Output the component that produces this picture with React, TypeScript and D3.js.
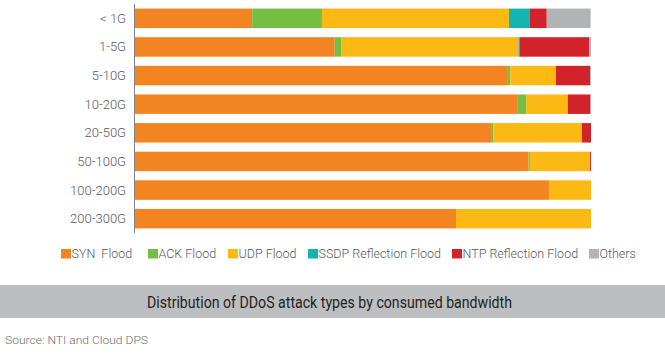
import React from "react";
import { scaleBand, scaleLinear, stack } from "d3";

const categories = ["< 1G", "1-5G", "5-10G", "10-20G", "20-50G", "50-100G", "100-200G", "200-300G"];
const seriesNames = ["SYN  Flood", "ACK Flood", "UDP Flood", "SSDP Reflection Flood", "NTP Reflection Flood", "Others"];
const synFlood = [25.7, 43.8, 81.6, 83.8, 78.1, 86.3, 90.9, 70.4];
const ackFlood = [15.3, 1.5, 0.7, 2.0, 0.5, 0.3, 0, 0];
const udpFlood = [41.0, 38.8, 10.0, 9.1, 19.4, 13.2, 9.1, 29.6];
const ssdpFlood = [4.5, 0.3, 0, 0, 0, 0, 0, 0];
const ntpFlood = [3.8, 15.2, 7.5, 5.0, 2.0, 0.2, 0, 0];
const others = [9.6, 0.4, 0.2, 0.1, 0, 0, 0, 0];
const title = "Distribution of DDoS attack types by consumed bandwidth";
const source = "Source: NTI and Cloud DPS";

const colors = ["#f28422", "#72bf44", "#fdb913", "#13b5b1", "#d2232a", "#b2b3b5"];
// legend items sit at these x positions in the original
const legendX = [61, 148, 228, 308, 452, 589];

export default function App() {
  const width = 665;
  const height = 358;
  const keys = ["syn", "ack", "udp", "ssdp", "ntp", "others"];
  const cols = [synFlood, ackFlood, udpFlood, ssdpFlood, ntpFlood, others];

  // 建表给 d3.stack 用
  const table = categories.map((c, i) => {
    const row: any = { cat: c };
    keys.forEach((k, j) => (row[k] = cols[j][i]));
    return row;
  });
  const series = stack().keys(keys)(table);

  const x = scaleLinear().domain([0, 100]).range([135, 591]);
  const y = scaleBand().domain(categories).range([4, 233]).paddingInner(0.32).paddingOuter(0.16);

  const font = "Roboto, 'Noto Sans', sans-serif";

  return (
    <svg
      width={width}
      height={height}
      style={{ position: "absolute", left: 0, top: 0, display: "block", background: "#fff" }}
      fontFamily={font}
    >
      {series.map((s, si) => (
        <g key={s.key} fill={colors[si]}>
          {s.map((d, i) =>
            d[1] - d[0] > 0 ? (
              <rect
                key={i}
                x={x(d[0])}
                y={y(categories[i])}
                width={x(d[1]) - x(d[0])}
                height={y.bandwidth()}
              />
            ) : null
          )}
        </g>
      ))}

      <line x1={134.5} x2={134.5} y1={4} y2={233} stroke="#808285" strokeWidth={1} />

      {categories.map((c) => (
        <text
          key={c}
          x={126}
          y={(y(c) as number) + y.bandwidth() / 2}
          dy="0.35em"
          textAnchor="end"
          fontSize={13}
          fontWeight={300}
          fill="#58595b"
        >
          {c}
        </text>
      ))}

      {seriesNames.map((n, i) => (
        <g key={n} transform={`translate(${legendX[i]}, 249)`}>
          <rect width={10} height={9.5} fill={colors[i]} />
          <text x={10.5} y={9} fontSize={12.5} fontWeight={300} fill="#58595b" style={{ whiteSpace: "pre" }}>
            {n}
          </text>
        </g>
      ))}

      <rect x={0} y={285} width={width} height={33} fill="#bcbec0" />
      <text
        x={329.5}
        y={307.5}
        textAnchor="middle"
        fontSize={16}
        fill="#231f20"
        textLength={365}
        lengthAdjust="spacingAndGlyphs"
      >
        {title}
      </text>

      <text x={5} y={344} fontSize={11.5} fontWeight={300} fill="#6d6e71" textLength={143} lengthAdjust="spacingAndGlyphs">
        {source}
      </text>
    </svg>
  );
}
